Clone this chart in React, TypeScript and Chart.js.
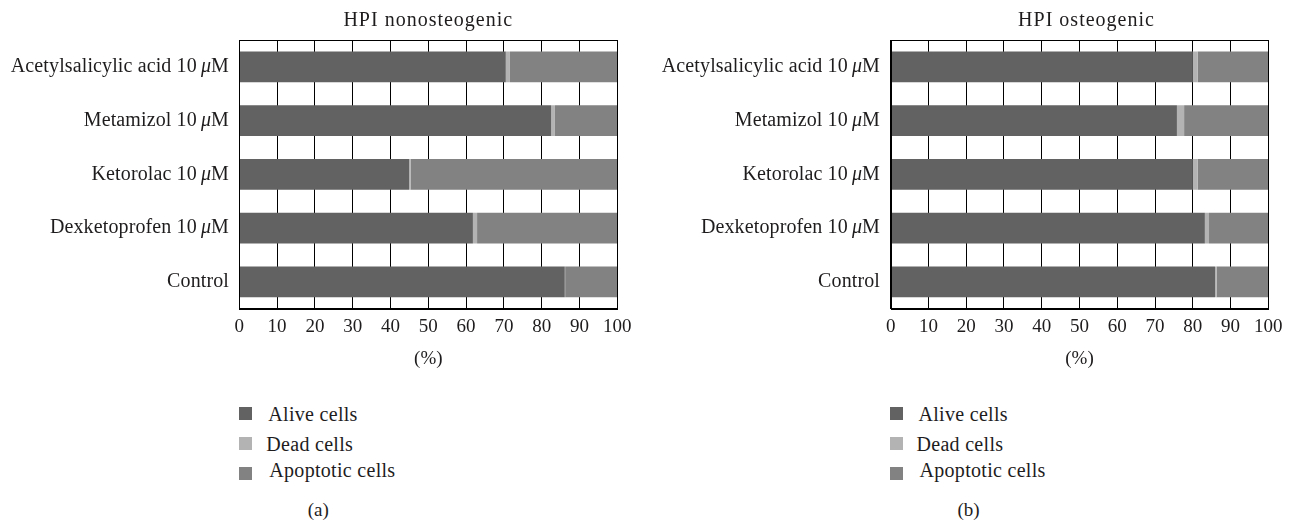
import React, { useEffect, useRef } from "react";
import { Chart, registerables } from "chart.js";
Chart.register(...registerables);

const categories = ["Acetylsalicylic acid", "Metamizol", "Ketorolac", "Dexketoprofen", "Control"];
const hasUnit = [true, true, true, true, false];
const xTickLabels = ["0", "10", "20", "30", "40", "50", "60", "70", "80", "90", "100"];
const seriesNames = ["Alive cells", "Dead cells", "Apoptotic cells"];
const seriesColors = ["#626262", "#b3b3b3", "#818281"];

const nonAlive = [70.5, 82.5, 44.9, 61.8, 86.1];
const nonDead = [1.1, 1.0, 0.4, 1.1, 0.1];
const nonApop = [28.4, 16.5, 54.7, 37.1, 13.8];

const ostAlive = [80.0, 75.8, 80.0, 83.2, 85.9];
const ostDead = [1.3, 1.9, 1.3, 1.1, 0.4];
const ostApop = [18.7, 22.3, 18.7, 15.7, 13.7];

const FONT = "'Liberation Serif', 'Times New Roman', serif";
const FS = 19;
const LFS = 20;
const TEXT = "#1e1c1d";

function makeTextPlugin(gap: number, title: string, titleDx: number) {
  return {
    id: "texts",
    afterDraw(chart: any) {
      const ctx = chart.ctx;
      const ys = chart.scales.y;
      const area = chart.chartArea;
      const rightX = area.left - gap;
      ctx.save();
      ctx.textBaseline = "middle";
      ctx.fillStyle = TEXT;
      // title
      ctx.textAlign = "center";
      ctx.font = `${LFS}px ${FONT}`;
      (ctx as any).letterSpacing = "1px";
      ctx.fillText(title, (area.left + area.right) / 2 + titleDx, 21);
      // category labels
      ctx.textAlign = "left";
      (ctx as any).letterSpacing = "0.12px";
      const normal = `${LFS}px ${FONT}`;
      const italic = `italic ${LFS}px ${FONT}`;
      categories.forEach((c, i) => {
        const py = ys.getPixelForValue(i);
        const parts: [string, string][] = hasUnit[i]
          ? [[c + " 10\u2009", normal], ["\u03bc", italic], ["M", normal]]
          : [[c, normal]];
        let total = 0;
        parts.forEach(([t, f]) => {
          ctx.font = f;
          total += ctx.measureText(t).width;
        });
        let x = rightX - total;
        parts.forEach(([t, f]) => {
          ctx.font = f;
          ctx.fillText(t, x, py);
          x += ctx.measureText(t).width;
        });
      });
      ctx.restore();
    },
  };
}

const borderPlugin = {
  id: "frame",
  afterDatasetsDraw(chart: any) {
    const { ctx, chartArea } = chart;
    ctx.save();
    ctx.strokeStyle = "#000";
    ctx.lineWidth = 1;
    const l = Math.round(chartArea.left) + 0.5;
    const t = Math.round(chartArea.top) + 0.5;
    const r = Math.round(chartArea.right) + 0.5;
    const b = Math.round(chartArea.bottom) + 0.5;
    ctx.strokeRect(l, t, r - l, b - t);
    ctx.restore();
  },
};

function makeConfig(title: string, alive: number[], dead: number[], apop: number[], yWidth: number, padRight: number, gap: number, titleDx: number): any {
  const data = [alive, dead, apop];
  return {
    type: "bar",
    data: {
      labels: categories.map((c, i) => (hasUnit[i] ? c + " 10 \u03bcM" : c)),
      datasets: seriesNames.map((n, k) => ({
        label: n,
        data: data[k],
        backgroundColor: seriesColors[k],
        borderWidth: 0,
        barPercentage: 0.572,
        categoryPercentage: 1,
      })),
    },
    options: {
      indexAxis: "y",
      responsive: false,
      animation: false,
      devicePixelRatio: 1,
      layout: { padding: { left: 0, right: padRight, top: 40, bottom: 0 } },
      plugins: {
        legend: { display: false },
        tooltip: { enabled: false },
        title: { display: false },
      },
      scales: {
        x: {
          type: "linear",
          stacked: true,
          min: 0,
          max: 100,
          ticks: {
            stepSize: 10,
            padding: 6.7,
            color: TEXT,
            font: { family: FONT, size: FS, lineHeight: 1.2 },
            callback: (_v: any, i: number) => xTickLabels[i],
          },
          grid: { color: "#000", lineWidth: 1, drawTicks: false },
          border: { display: true, color: "#000", width: 1 },
          title: {
            display: true,
            text: "(%)",
            color: TEXT,
            font: { family: FONT, size: FS, lineHeight: 1.2 },
            padding: { top: 0, bottom: 9.6 },
          },
          afterFit: (s: any) => {
            s.height = 380 - 308.7;
          },
        },
        y: {
          type: "category",
          stacked: true,
          ticks: { display: false },
          grid: { display: false, drawTicks: false },
          border: { display: true, color: "#000", width: 1 },
          afterFit: (s: any) => {
            s.width = yWidth;
          },
        },
      },
    },
    plugins: [borderPlugin, makeTextPlugin(gap, title, titleDx)],
  };
}

function Legend({ left, tag }: { left: number; tag: string }) {
  const rows = [
    { y: 413.5, sq: 413.3, dx: 0 },
    { y: 444.3, sq: 443.3, dx: -2 },
    { y: 470, sq: 473, dx: 1 },
  ];
  const textStyle: React.CSSProperties = {
    position: "absolute",
    fontFamily: FONT,
    fontSize: LFS,
    letterSpacing: "0.3px",
    lineHeight: "22px",
    color: TEXT,
    whiteSpace: "nowrap",
  };
  return (
    <>
      {rows.map((r, k) => (
        <React.Fragment key={k}>
          <div
            style={{
              position: "absolute",
              left: left,
              top: r.sq - 6.5,
              width: 13,
              height: 13,
              background: seriesColors[k],
            }}
          />
          <div style={{ ...textStyle, left: left + 29 + r.dx, top: r.y - 11 }}>{seriesNames[k]}</div>
        </React.Fragment>
      ))}
      <div style={{ ...textStyle, fontSize: FS, letterSpacing: 0, left: left + 64, top: 510 - 11, width: 30, textAlign: "center" }}>{tag}</div>
    </>
  );
}

export default function App() {
  const ref1 = useRef<HTMLCanvasElement>(null);
  const ref2 = useRef<HTMLCanvasElement>(null);
  useEffect(() => {
    const c1 = new Chart(ref1.current as HTMLCanvasElement, makeConfig("HPI nonosteogenic", nonAlive, nonDead, nonApop, 239.3, 648 - 617.3, 10.3, 0));
    const c2 = new Chart(ref2.current as HTMLCanvasElement, makeConfig("HPI osteogenic", ostAlive, ostDead, ostApop, 890.7 - 648, 648 - (1268.3 - 648), 10.7, 7));
    return () => {
      c1.destroy();
      c2.destroy();
    };
  }, []);
  return (
    <div style={{ position: "absolute", left: 0, top: 0, width: 1296, height: 527, background: "#fff", overflow: "hidden" }}>
      <canvas ref={ref1} width={648} height={380} style={{ position: "absolute", left: 0, top: 0, width: 648, height: 380 }} />
      <canvas ref={ref2} width={648} height={380} style={{ position: "absolute", left: 648, top: 0, width: 648, height: 380 }} />
      <Legend left={239.3} tag="(a)" />
      <Legend left={889.5} tag="(b)" />
    </div>
  );
}
